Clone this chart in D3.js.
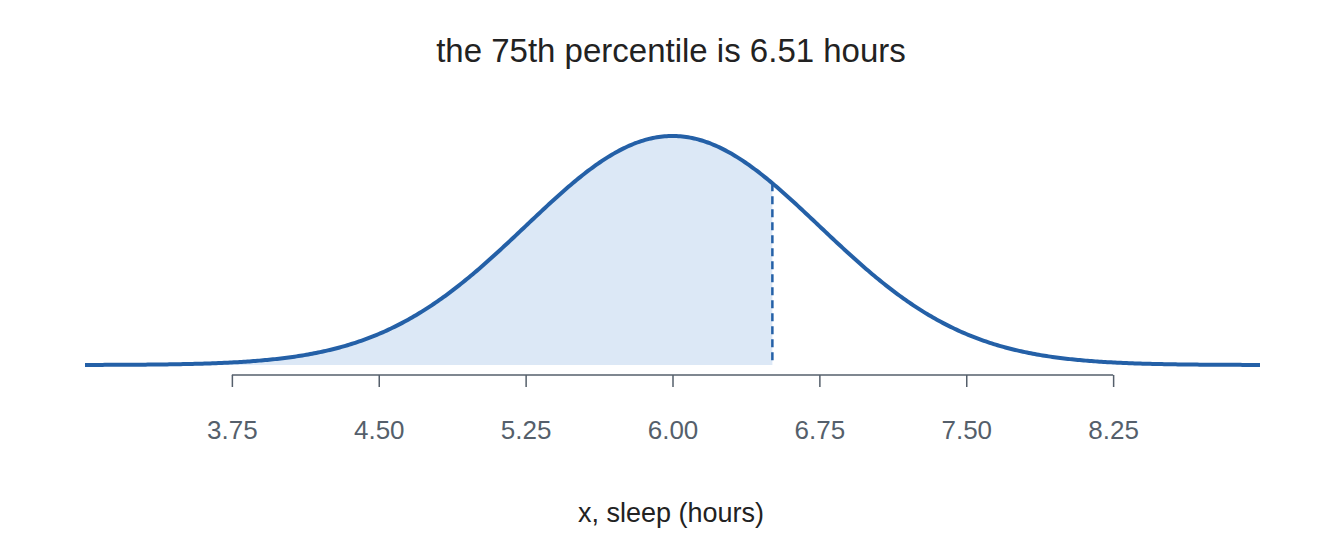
<!DOCTYPE html>
<html><head><meta charset="utf-8">
<script src="https://cdn.jsdelivr.net/npm/d3@7"></script>
<style>body{margin:0;background:#fff}text{font-family:"Liberation Sans",Arial,sans-serif}</style>
</head><body>
<svg width="1344" height="537"></svg>
<script>
// distribution parameters and labels
const mean = 6.0;
const sd = 0.75;
const pctl = 6.51;
const tickValues = [3.75, 4.50, 5.25, 6.00, 6.75, 7.50, 8.25];
const titleText = "the 75th percentile is 6.51 hours";
const xLabel = "x, sleep (hours)";

const svg = d3.select("svg");
const x = d3.scaleLinear().domain([3, 9]).range([85, 1260]);
const dens = v => Math.exp(-0.5 * ((v - mean) / sd) ** 2) / (sd * Math.sqrt(2 * Math.PI));
const y = d3.scaleLinear().domain([0, dens(mean)]).range([365, 136]);

const pts = d3.range(3, 9.0001, 0.01).map(v => [v, dens(v)]);
const shade = pts.filter(p => p[0] <= pctl).concat([[pctl, dens(pctl)]]);

svg.append("path")
    .datum(shade)
    .attr("fill", "#dce8f6")
    .attr("d", d3.area().x(d => x(d[0])).y0(y(0)).y1(d => y(d[1])));

svg.append("line")
    .attr("x1", x(pctl)).attr("x2", x(pctl))
    .attr("y1", y(dens(pctl))).attr("y2", y(0))
    .attr("stroke", "#2460a7").attr("stroke-width", 2.5)
    .attr("stroke-dasharray", "8,5");

svg.append("path")
    .datum(pts)
    .attr("fill", "none")
    .attr("stroke", "#2460a7")
    .attr("stroke-width", 4)
    .attr("d", d3.line().x(d => x(d[0])).y(d => y(d[1])));

// axis
const ax = svg.append("g").attr("transform", "translate(0,375)")
    .call(d3.axisBottom(x).tickValues(tickValues).tickFormat(d3.format(".2f")).tickSize(12).tickPadding(34));
ax.select(".domain").attr("d", `M${x(3.75)},0H${x(8.25)}`).attr("stroke", "#555f6b").attr("stroke-width", 1.5);
ax.selectAll(".tick line").attr("stroke", "#555f6b").attr("stroke-width", 1.5);
ax.selectAll(".tick text").attr("fill", "#555f6b").style("font-size", "26px").style("font-family", "Liberation Sans, Arial, sans-serif");

svg.append("text").attr("x", 671).attr("y", 62).attr("text-anchor", "middle")
    .attr("fill", "#222").style("font-size", "33px").text(titleText);
svg.append("text").attr("x", 671).attr("y", 522).attr("text-anchor", "middle")
    .attr("fill", "#222").style("font-size", "27px").text(xLabel);
</script>
</body></html>
